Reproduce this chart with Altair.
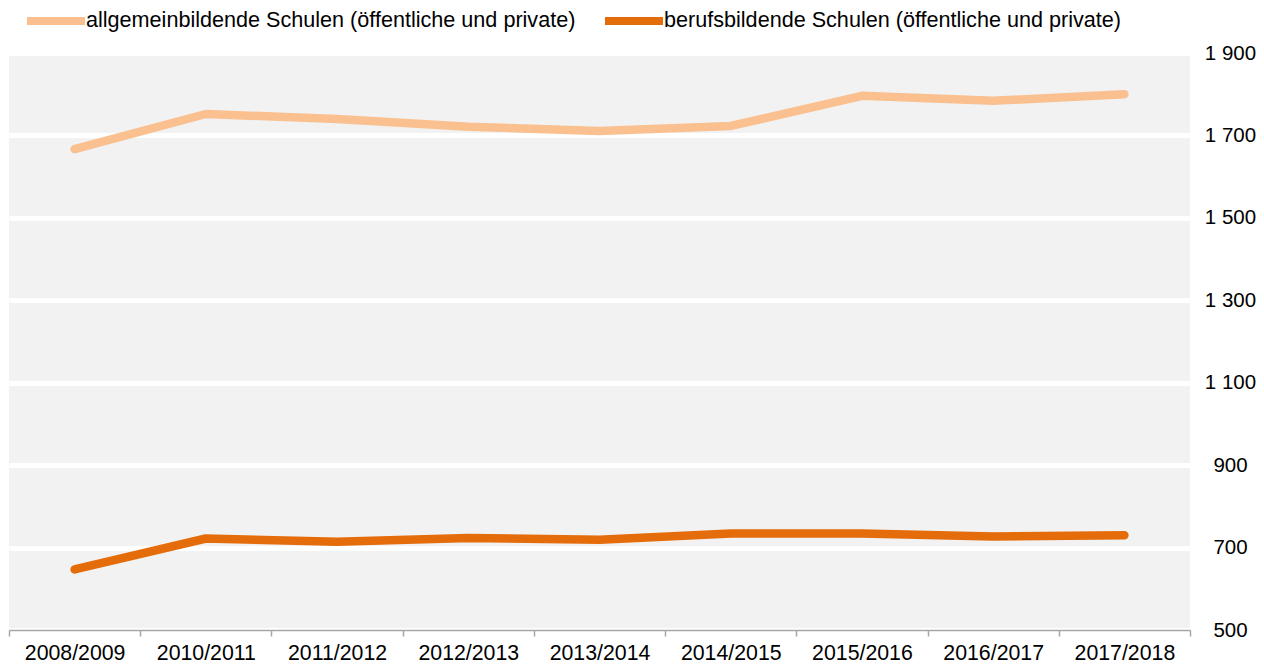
import altair as alt
import pandas as pd

years = ["2008/2009", "2010/2011", "2011/2012", "2012/2013", "2013/2014",
         "2014/2015", "2015/2016", "2016/2017", "2017/2018"]
allgemein = [1667, 1752, 1740, 1721, 1711, 1723, 1796, 1784, 1800]
beruf = [647, 722, 714, 723, 719, 734, 734, 727, 730]
series_names = ["allgemeinbildende Schulen (öffentliche und private)",
                "berufsbildende Schulen (öffentliche und private)"]
series_colors = ["#FAC090", "#E46C0A"]
y_ticks = [500, 700, 900, 1100, 1300, 1500, 1700, 1900]

rows = []
for name, vals in zip(series_names, [allgemein, beruf]):
    for yr, v in zip(years, vals):
        rows.append({"Jahr": yr, "Wert": v, "Serie": name})
df = pd.DataFrame(rows)

FONT = "Liberation Sans"
FS = 21.3

chart = alt.Chart(df).mark_line(
    strokeWidth=8.5, strokeCap="round", strokeJoin="round"
).encode(
    x=alt.X("Jahr:N", sort=years, title=None,
            scale=alt.Scale(type="band", paddingInner=0, paddingOuter=0),
            axis=alt.Axis(tickBand="extent", labelAngle=0, labelFontSize=FS,
                          labelColor="#000000", labelFont=FONT,
                          domainColor="#A6A6A6", tickColor="#A6A6A6",
                          tickSize=6, labelPadding=6, grid=False,
                          domainWidth=1.5, tickWidth=1.5)),
    y=alt.Y("Wert:Q", title=None,
            scale=alt.Scale(domain=[500, 1900], nice=False, zero=False),
            axis=alt.Axis(orient="right", values=y_ticks,
                          labelExpr="replace(format(datum.value, ','), ',', ' ')",
                          labelFontSize=20.5, labelColor="#000000", labelFont=FONT,
                          labelAlign="center", labelPadding=40,
                          domain=False, ticks=False,
                          grid=True, gridColor="#FFFFFF", gridWidth=5)),
    color=alt.Color("Serie:N", sort=series_names,
                    scale=alt.Scale(domain=series_names, range=series_colors),
                    legend=alt.Legend(orient="none", legendX=14, legendY=-65,
                                      direction="horizontal", title=None,
                                      symbolType="stroke", symbolSize=3364,
                                      symbolStrokeWidth=8, labelFontSize=21.6,
                                      labelFont=FONT, labelColor="#000000",
                                      labelLimit=0, labelOffset={"expr": "-3"},
                                      columnPadding=13)),
).properties(
    width=1181, height=577,
    autosize=alt.AutoSizeParams(type="none"),
    padding={"left": 1, "top": 45, "right": 66, "bottom": 33},
).configure(
    font=FONT, background="#FFFFFF"
).configure_view(
    fill="#F2F2F2", stroke=None, strokeWidth=0
)

chart.save("out.html", embed_options={"renderer": "svg", "actions": False})
